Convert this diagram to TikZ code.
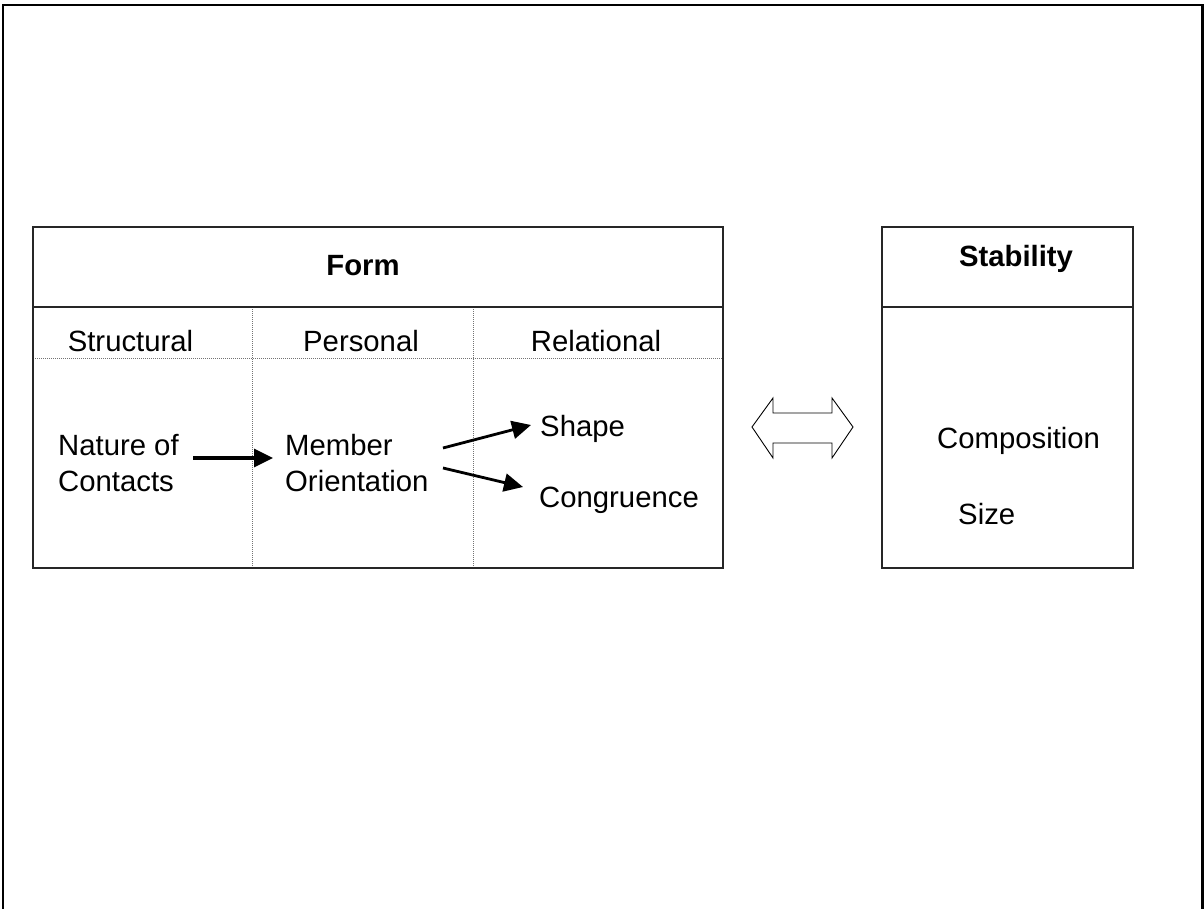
\documentclass[tikz,border=0pt]{standalone}
\usepackage{fontspec}
\setmainfont{Liberation Sans}
\usetikzlibrary{arrows.meta,calc}
\tikzset{
  lbl/.style={inner sep=0pt, font=\fontsize{29.3}{36}\selectfont},
  hdr/.style={inner sep=0pt, font=\fontsize{29.3}{36}\selectfont\bfseries},
  boxline/.style={line width=1.5pt, draw=black!85},
  dotline/.style={line width=0.9pt, draw=black!55, dash pattern=on 1pt off 1pt},
  arr/.style={line width=3.2pt, -{Triangle[length=19pt,width=18pt]}},
  darr/.style={line width=2.8pt, -{Triangle[length=19pt,width=18pt]}},
}
\begin{document}
\begin{tikzpicture}[x=1pt,y=-1pt]
\useasboundingbox (0,0) rectangle (1204,909);
% outer frame
\draw[line width=2.6pt] (3,909) -- (3,5) -- (1202.5,5) -- (1202.5,909);
% Form box
\draw[dotline] (33,358) -- (723,358);
\draw[dotline] (252,307) -- (252,568);
\draw[dotline] (473,307) -- (473,568);
\draw[boxline] (33,227) rectangle (723,568);
\draw[boxline] (33,307) -- (723,307);
% Stability box
\draw[boxline] (882,227) rectangle (1133,568);
\draw[boxline] (882,307) -- (1133,307);
% texts
\node[hdr, anchor=base] (form) at (363,276) {Form};
\node[lbl, anchor=base] (struc) at (130.5,351) {Structural};
\node[lbl, anchor=base] (pers) at (361,351) {Personal};
\node[lbl, anchor=base] (rel) at (596,351) {Relational};
\node[lbl, anchor=base west] (nat) at (58,455) {Nature of};
\node[lbl, anchor=base west] (cont) at (58,491) {Contacts};
\node[lbl, anchor=base west] (mem) at (285,455) {Member};
\node[lbl, anchor=base west] (ori) at (285,491) {Orientation};
\node[lbl, anchor=base west] (shape) at (540,436) {Shape};
\node[lbl, anchor=base west] (cong) at (539,507) {Congruence};
\node[hdr, anchor=base] (stab) at (1016,266) {Stability};
\node[lbl, anchor=base west] (comp) at (937,448) {Composition};
\node[lbl, anchor=base west] (size) at (958,524) {Size};
% arrows
\draw[arr] ($(nat.base west)+(135,3)$) -- ($(mem.base west)+(-12,3)$);
\draw[darr] ($(mem.base west)+(158,-7)$) -- ($(shape.base west)+(-9,-11)$);
\draw[darr] ($(mem.base west)+(158,13)$) -- ($(cong.base west)+(-16,-20)$);
% double arrow
\draw[line width=0.9pt] (752,427) -- (773,398) -- (773,413) -- (832,413) -- (832,398) -- (853,427)
  -- (832,458) -- (832,443) -- (773,443) -- (773,458) -- cycle;
\end{tikzpicture}
\end{document}
